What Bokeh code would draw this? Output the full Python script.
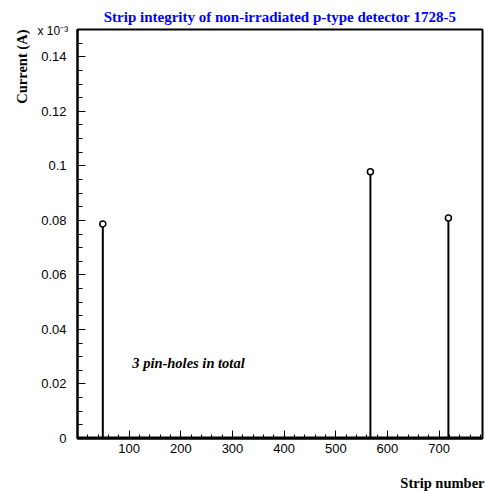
from bokeh.plotting import figure
from bokeh.models import Range1d, FixedTicker, Label, Title
from bokeh.embed import file_html
from bokeh.resources import INLINE

# ---- data (current in units of 1e-3 A) ----
pin_strips = [49, 567, 718]
pin_currents = [0.0787, 0.0978, 0.0809]
baseline_strips = [1, 784]
baseline_currents = [0.0, 0.0]

y_ticks = [0, 0.02, 0.04, 0.06, 0.08, 0.1, 0.12, 0.14]
y_tick_labels = ["0", "0.02", "0.04", "0.06", "0.08", "0.1", "0.12", "0.14"]
x_ticks = [100, 200, 300, 400, 500, 600, 700]
x_tick_labels = ["100", "200", "300", "400", "500", "600", "700"]

X_MIN, X_MAX = 0, 784
Y_MIN, Y_MAX = 0, 0.15

W, H = 486, 491

p = figure(width=W, height=H, output_backend="svg", toolbar_location=None, title=None,
           x_range=Range1d(X_MIN, X_MAX), y_range=Range1d(Y_MIN, Y_MAX),
           min_border_left=77, min_border_right=4, min_border_top=29, min_border_bottom=53)
p.background_fill_color = "white"
p.border_fill_color = "white"
p.outline_line_color = "black"
p.outline_line_width = 2
p.xgrid.visible = False
p.ygrid.visible = False

# axes
p.yaxis.ticker = FixedTicker(ticks=y_ticks, minor_ticks=[i * 0.005 for i in range(31)])
p.yaxis.major_label_overrides = {t: s for t, s in zip(y_ticks, y_tick_labels)}
p.xaxis.ticker = FixedTicker(ticks=x_ticks, minor_ticks=[i * 20 for i in range(40)])
p.xaxis.major_label_overrides = {t: s for t, s in zip(x_ticks, x_tick_labels)}
for ax in (p.xaxis[0], p.yaxis[0]):
    ax.axis_line_color = "black"
    ax.axis_line_width = 2
    ax.major_tick_line_color = "black"
    ax.minor_tick_line_color = "black"
    ax.major_tick_line_width = 1
    ax.minor_tick_line_width = 1
    ax.major_tick_out = 0
    ax.minor_tick_out = 0
    ax.major_label_text_font = "Liberation Sans"
    ax.major_label_text_font_size = "13px"
    ax.major_label_text_color = "black"
p.yaxis.major_tick_in = 8
p.yaxis.minor_tick_in = 5
p.yaxis.major_label_standoff = 11
p.xaxis.major_tick_in = 8
p.xaxis.minor_tick_in = 4
p.xaxis.major_label_standoff = 5
# blank spacer label so that the axis title below sits at the bottom edge
p.xaxis.axis_label = " "
p.xaxis.axis_label_text_font_size = "10px"
p.xaxis.axis_label_standoff = 2

# titles (stacked outward from the frame)
p.add_layout(Title(text="x 10\u207b\u00b3", align="left", offset=-40, standoff=-16,
                   text_font="Liberation Sans", text_font_size="12px",
                   text_font_style="normal", text_color="black"), "above")
p.add_layout(Title(text="Strip integrity of non-irradiated p-type detector 1728-5",
                   align="center", standoff=9, text_font="Liberation Serif",
                   text_font_size="15px", text_font_style="bold", text_color="#0000ff"),
             "above")
p.add_layout(Title(text="Current (A)", align="right", standoff=18,
                   text_font="Liberation Serif", text_font_size="14.5px",
                   text_font_style="bold", text_color="black"), "left")
p.add_layout(Title(text="Strip number", align="right", offset=-2, standoff=2,
                   text_font="Liberation Serif", text_font_size="14.5px",
                   text_font_style="bold", text_color="black"), "below")

# data marks
p.line(baseline_strips, baseline_currents, line_color="black", line_width=4)
p.segment(x0=pin_strips, y0=[0] * len(pin_strips), x1=pin_strips, y1=pin_currents,
          line_color="black", line_width=2)
p.scatter(pin_strips, pin_currents, marker="circle", size=6, fill_color="white",
          line_color="black", line_width=1.5)

# annotation inside the frame
p.add_layout(Label(x=106, y=0.0277, text="3 pin-holes in total",
                   text_font="Liberation Serif", text_font_size="14.5px",
                   text_font_style="bold italic", text_color="black",
                   text_baseline="alphabetic"))

open("out.html", "w").write(file_html(p, INLINE))
